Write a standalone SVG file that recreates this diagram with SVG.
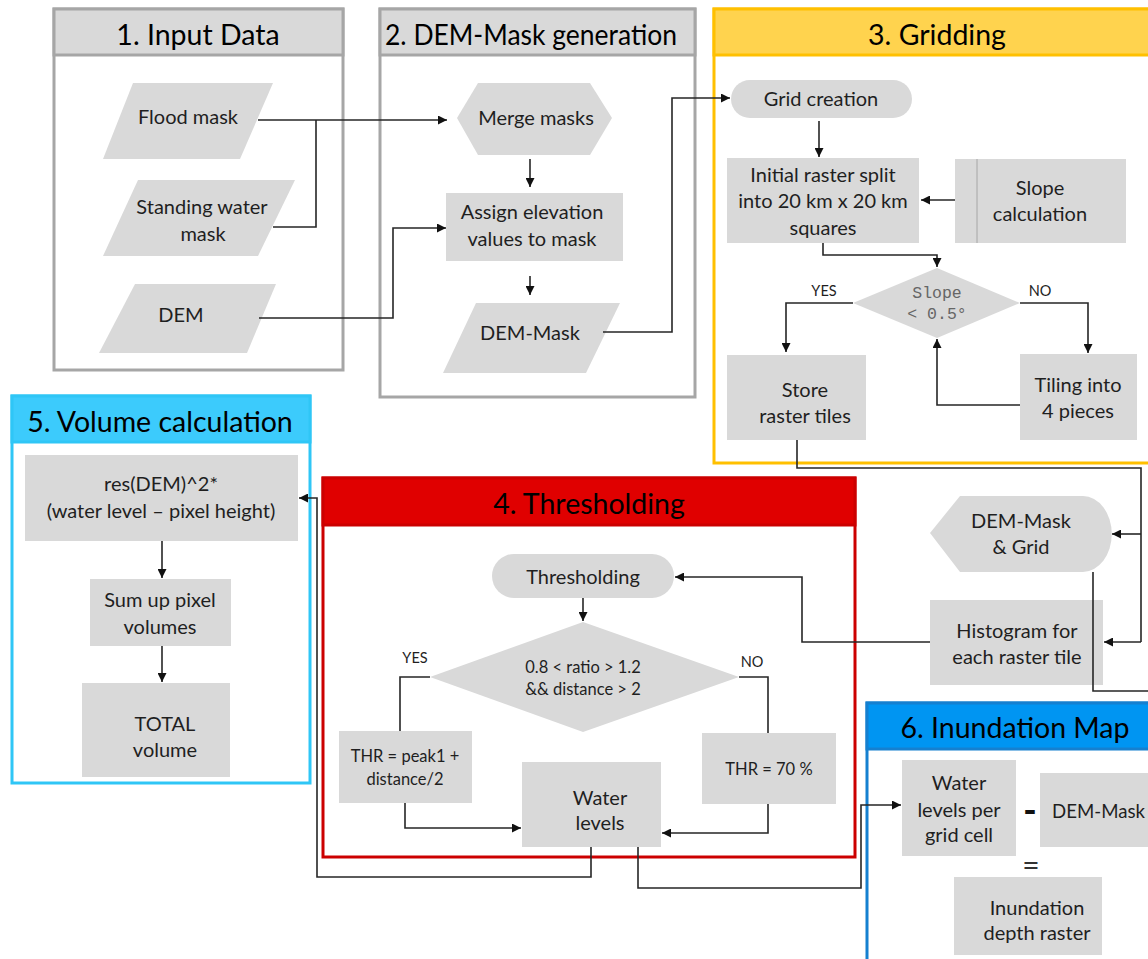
<svg xmlns="http://www.w3.org/2000/svg" width="1148" height="959" viewBox="0 0 1148 959">
<defs>
<marker id="ah" viewBox="0 0 10 10" refX="10" refY="5" markerWidth="9" markerHeight="9" markerUnits="userSpaceOnUse" orient="auto">
<path d="M0,0 L10,5 L0,10 z" fill="#111"/>
</marker>
<style>
.pg{fill:#fff;stroke:#a6a6a6;stroke-width:3}
.pgh{fill:#d9d9d9;stroke:#a6a6a6;stroke-width:3}
.py{fill:#fff;stroke:#ffc000;stroke-width:3}
.pyh{fill:#ffd34e;stroke:#ffc000;stroke-width:3}
.pc{fill:#fff;stroke:#2fc6f6;stroke-width:3}
.pch{fill:#3ccbfc;stroke:#2fc6f6;stroke-width:3}
.pr{fill:#fff;stroke:#cc0000;stroke-width:3}
.prh{fill:#e00000;stroke:#cc0000;stroke-width:3}
.pb{fill:#fff;stroke:#1580d0;stroke-width:3}
.pbh{fill:#0095f2;stroke:#1580d0;stroke-width:3}
.n{fill:#d9d9d9;stroke:none}
.t{font-family:Lato,"Open Sans",sans-serif;font-size:28.5px;fill:#000;text-anchor:middle}
.l{font-family:Lato,"Open Sans",sans-serif;font-size:20px;fill:#1f1f1f;text-anchor:middle}
.ls{font-family:Lato,"Open Sans",sans-serif;font-size:19px;fill:#1f1f1f;text-anchor:start}
.m{font-family:"Liberation Mono",monospace;font-size:16.5px;fill:#666;text-anchor:middle}
.s{font-family:Lato,"Open Sans",sans-serif;font-size:16.5px;fill:#1f1f1f;text-anchor:middle}
.y{font-family:Lato,"Open Sans",sans-serif;font-size:14.5px;fill:#1f1f1f;text-anchor:middle}
.c{fill:none;stroke:#262626;stroke-width:1.6}
.ca{fill:none;stroke:#262626;stroke-width:1.6;marker-end:url(#ah)}
</style>
</defs>

<g id="panel1">
<rect class="pg" x="54" y="9" width="289" height="361"/>
<rect class="pgh" x="54" y="9" width="289" height="46"/>
<text class="t" x="198" y="45">1. Input Data</text>
</g>
<g id="panel2">
<rect class="pg" x="380" y="9" width="315" height="388"/>
<rect class="pgh" x="380" y="9" width="315" height="46"/>
<text class="t" x="531" y="45" textLength="292" lengthAdjust="spacingAndGlyphs">2. DEM-Mask generation</text>
</g>
<g id="panel3">
<rect class="py" x="714" y="9" width="450" height="454"/>
<rect class="pyh" x="714" y="9" width="450" height="46"/>
<text class="t" x="937" y="45">3. Gridding</text>
</g>
<g id="panel5">
<rect class="pc" x="12" y="396" width="298" height="387"/>
<rect class="pch" x="12" y="396" width="298" height="46"/>
<text class="t" x="160" y="432">5. Volume calculation</text>
</g>
<g id="panel4">
<rect class="pr" x="323" y="478" width="532" height="379"/>
<rect class="prh" x="323" y="478" width="532" height="47"/>
<text class="t" x="589" y="514">4. Thresholding</text>
</g>
<g id="panel6">
<rect class="pb" x="867" y="703" width="300" height="280"/>
<rect class="pbh" x="867" y="703" width="300" height="46"/>
<text class="t" x="1015" y="738">6. Inundation Map</text>
</g>

<g id="flood-mask">
<polygon class="n" points="133,83 273,83 240,159 103,159"/>
<text class="l" x="188" y="124">Flood mask</text>
</g>
<g id="standing-water-mask">
<polygon class="n" points="138,180 295,180 258,256 103,256"/>
<text class="l" x="202" y="214">Standing water</text>
<text class="l" x="203" y="241">mask</text>
</g>
<g id="dem">
<polygon class="n" points="135,284 276,284 247,353 99,353"/>
<text class="l" x="181" y="322">DEM</text>
</g>

<g id="merge-masks">
<polygon class="n" points="457,118 478,83 590,83 612,118 590,155 478,155"/>
<text class="l" x="536" y="125">Merge masks</text>
</g>
<g id="assign-elevation">
<rect class="n" x="446" y="193" width="177" height="68"/>
<text class="l" x="532" y="219">Assign elevation</text>
<text class="l" x="532" y="246">values to mask</text>
</g>
<g id="dem-mask">
<polygon class="n" points="476,303 620,303 586,373 443,373"/>
<text class="l" x="530" y="340">DEM-Mask</text>
</g>

<g id="grid-creation">
<rect class="n" x="731" y="80" width="181" height="38" rx="19"/>
<text class="l" x="821" y="106">Grid creation</text>
</g>
<g id="initial-raster-split">
<rect class="n" x="727" y="158" width="192" height="85"/>
<text class="l" x="823" y="182">Initial raster split</text>
<text class="l" x="823" y="208">into 20 km x 20 km</text>
<text class="l" x="823" y="235">squares</text>
</g>
<g id="slope-calculation">
<rect class="n" x="955" y="159" width="171" height="84"/>
<line x1="977" y1="159" x2="977" y2="243" stroke="#a6a6a6" stroke-width="1"/>
<text class="l" x="1040" y="195">Slope</text>
<text class="l" x="1040" y="221">calculation</text>
</g>
<g id="slope-decision">
<polygon class="n" points="853,303 937,268 1020,303 937,338"/>
<text class="m" x="937" y="298">Slope</text>
<text class="m" x="937" y="319">&lt; 0.5°</text>
</g>
<g id="store-raster-tiles">
<rect class="n" x="727" y="355" width="139" height="85"/>
<text class="l" x="805" y="397">Store</text>
<text class="l" x="805" y="423">raster tiles</text>
</g>
<g id="tiling">
<rect class="n" x="1020" y="354" width="117" height="86"/>
<text class="l" x="1078" y="392">Tiling into</text>
<text class="l" x="1078" y="418">4 pieces</text>
</g>

<g id="dem-mask-grid">
<path class="n" d="M930,533 L960,496 L1083,496 A28,37 0 0 1 1083,572 L960,572 Z"/>
<text class="l" x="1021" y="528">DEM-Mask</text>
<text class="l" x="1021" y="554">&amp; Grid</text>
</g>
<g id="histogram">
<rect class="n" x="930" y="600" width="173" height="85"/>
<text class="l" x="1017" y="638">Histogram for</text>
<text class="l" x="1017" y="664">each raster tile</text>
</g>

<g id="thresholding-start">
<rect class="n" x="492" y="554" width="182" height="44" rx="22"/>
<text class="l" x="583" y="584">Thresholding</text>
</g>
<g id="ratio-decision">
<polygon class="n" points="430,677 583,622 739,677 583,732"/>
<text class="s" x="583" y="673">0.8 &lt; ratio &gt; 1.2</text>
<text class="s" x="583" y="695">&amp;&amp; distance &gt; 2</text>
</g>
<g id="thr-peak">
<rect class="n" x="339" y="731" width="133" height="72"/>
<text class="s" x="405" y="762">THR = peak1 +</text>
<text class="s" x="405" y="785">distance/2</text>
</g>
<g id="thr-70">
<rect class="n" x="702" y="733" width="134" height="71"/>
<text class="s" x="769" y="775">THR = 70 %</text>
</g>
<g id="water-levels">
<rect class="n" x="522" y="762" width="139" height="85"/>
<text class="l" x="600" y="805">Water</text>
<text class="l" x="600" y="830">levels</text>
</g>

<g id="res-dem">
<rect class="n" x="25" y="455" width="273" height="86"/>
<text class="l" x="161" y="491">res(DEM)^2*</text>
<text class="l" x="161" y="518">(water level – pixel height)</text>
</g>
<g id="sum-up">
<rect class="n" x="90" y="579" width="141" height="67"/>
<text class="l" x="160" y="607">Sum up pixel</text>
<text class="l" x="160" y="634">volumes</text>
</g>
<g id="total-volume">
<rect class="n" x="82" y="683" width="148" height="94"/>
<text class="l" x="165" y="731">TOTAL</text>
<text class="l" x="165" y="757">volume</text>
</g>

<g id="water-levels-grid">
<rect class="n" x="902" y="760" width="114" height="96"/>
<text class="l" x="959" y="790">Water</text>
<text class="l" x="959" y="817">levels per</text>
<text class="l" x="959" y="842">grid cell</text>
</g>
<g id="minus">
<text x="1030" y="823" font-family="Lato,sans-serif" font-size="36" font-weight="900" fill="#111" text-anchor="middle">-</text>
</g>
<g id="dem-mask-6">
<rect class="n" x="1040" y="773" width="120" height="74"/>
<text class="ls" x="1052" y="818" textLength="93" lengthAdjust="spacingAndGlyphs">DEM-Mask</text>
</g>
<g id="equals">
<text x="1031" y="876" font-family="Lato,sans-serif" font-size="30" fill="#333" text-anchor="middle">=</text>
</g>
<g id="inundation-depth">
<rect class="n" x="954" y="877" width="148" height="78"/>
<text class="l" x="1037" y="915">Inundation</text>
<text class="l" x="1037" y="940">depth raster</text>
</g>

<g id="labels">
<text class="y" x="824" y="296">YES</text>
<text class="y" x="1040" y="296">NO</text>
<text class="y" x="415" y="663">YES</text>
<text class="y" x="752" y="667">NO</text>
</g>

<g id="connectors">
<polyline class="ca" points="258,120 447,120"/>
<polyline class="c" points="273,227 316,227 316,120"/>
<polyline class="ca" points="259,318 393,318 393,228 446,228"/>
<polyline class="ca" points="530,159 530,187"/>
<polyline class="ca" points="530,276 530,295"/>
<polyline class="ca" points="603,332 672,332 672,98 730,98"/>
<polyline class="ca" points="819,121 819,157"/>
<polyline class="ca" points="955,200 921,200"/>
<polyline class="ca" points="823,243 823,255 937,255 937,267"/>
<polyline class="ca" points="853,303 786,303 786,352"/>
<polyline class="ca" points="1020,303 1088,303 1088,353"/>
<polyline class="ca" points="1020,405 937,405 937,339"/>
<polyline class="c" points="797,440 797,468 1141,468 1141,642"/>
<polyline class="ca" points="1141,534 1112,534"/>
<polyline class="ca" points="1141,642 1104,642"/>
<polyline class="c" points="1093,572 1093,691 1150,691"/>
<polyline class="ca" points="930,642 802,642 802,577 675,577"/>
<polyline class="ca" points="583,598 583,621"/>
<polyline class="c" points="430,677 400,677 400,731"/>
<polyline class="c" points="739,677 768,677 768,733"/>
<polyline class="ca" points="405,803 405,828 521,828"/>
<polyline class="ca" points="768,804 768,833 662,833"/>
<polyline class="ca" points="591,847 591,877 317,877 317,498 299,498"/>
<polyline class="ca" points="638,847 638,888 861,888 861,805 901,805"/>
<polyline class="ca" points="162,541 162,578"/>
<polyline class="ca" points="162,646 162,682"/>
</g>
</svg>
